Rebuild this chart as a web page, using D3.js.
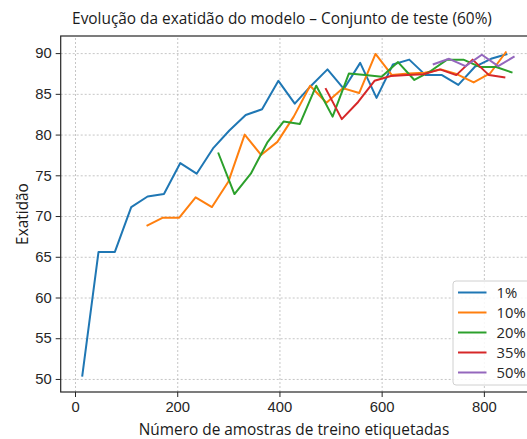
<!DOCTYPE html>
<html>
<head>
<meta charset="utf-8">
<script src="https://cdn.jsdelivr.net/npm/d3@7"></script>
<style>
  body { margin: 0; background: #fff; overflow: hidden; }
  svg { display: block; font-family: "Open Sans", "Noto Sans", sans-serif; }
  .grid line { stroke: #b8b8b8; stroke-dasharray: 2,2; stroke-width: 0.8; }
  .grid path { display: none; }
  .axis text { fill: #262626; font-size: 14.8px; }
  .axis line { stroke: #262626; }
  .axis path { display: none; }
</style>
</head>
<body>
<div id="chart"><svg></svg></div>
<script>
// amostras etiquetadas (eixo x) e exatidão (%) por percentagem inicial
var x1 = [14, 46, 78, 110, 142, 174, 206, 238, 270, 302, 334, 366, 398, 430, 462, 494, 526, 558, 590, 622, 654, 686, 718, 750, 782, 814, 846];
var acc1 = [50.3, 65.6, 65.6, 71.1, 72.4, 72.7, 76.5, 75.2, 78.3, 80.5, 82.4, 83.1, 86.6, 83.8, 86.0, 88.0, 85.6, 88.8, 84.5, 88.6, 89.2, 87.3, 87.3, 86.1, 88.3, 89.3, 89.9];

var x10 = [140, 172, 204, 236, 268, 300, 332, 364, 396, 428, 460, 492, 524, 556, 588, 620, 652, 684, 716, 748, 780, 812, 844];
var acc10 = [68.8, 69.8, 69.8, 72.3, 71.1, 74.2, 80.0, 77.5, 79.1, 82.2, 86.0, 83.9, 85.7, 85.1, 89.9, 87.3, 87.5, 87.6, 88.0, 87.4, 86.4, 87.5, 90.2];

var x20 = [280, 312, 344, 376, 408, 440, 472, 504, 536, 568, 600, 632, 664, 696, 728, 760, 792, 824, 856];
var acc20 = [77.8, 72.7, 75.2, 79.0, 81.6, 81.3, 86.0, 82.2, 87.5, 87.3, 87.1, 88.9, 86.7, 87.8, 89.2, 89.2, 88.3, 88.3, 87.6];

var x35 = [490, 522, 554, 586, 618, 650, 682, 714, 746, 778, 810, 842];
var acc35 = [85.7, 81.9, 84.0, 86.6, 87.2, 87.3, 87.4, 88.0, 87.3, 89.2, 87.3, 87.0];

var x50 = [700, 732, 764, 796, 828, 860];
var acc50 = [88.6, 89.3, 88.4, 89.8, 88.4, 89.6];

var labels = ["1%", "10%", "20%", "35%", "50%"];
var colors = ["#1f77b4", "#ff7f0e", "#2ca02c", "#d62728", "#9467bd"];
var xTicks = [0, 200, 400, 600, 800];
var yTicks = [50, 55, 60, 65, 70, 75, 80, 85, 90];

(function() {
    var width = 527;
    var height = 439;
    var pLeft = 60.7, pRight = 536, pTop = 36, pBottom = 392;

    var svg = d3.select("#chart svg").attr("width", width).attr("height", height);

    var x = d3.scaleLinear().domain([-28, 902]).range([pLeft, pRight]);
    var y = d3.scaleLinear().domain([48.4, 92.1]).range([pBottom, pTop]);

    // grelha
    svg.append("g")
        .attr("class", "grid")
        .attr("transform", "translate(0," + pBottom + ")")
        .call(d3.axisBottom(x).tickValues(xTicks).tickSize(-(pBottom - pTop)).tickFormat(""));
    svg.append("g")
        .attr("class", "grid")
        .attr("transform", "translate(" + pLeft + ",0)")
        .call(d3.axisLeft(y).tickValues(yTicks).tickSize(-(pRight - pLeft)).tickFormat(""));

    // eixos
    svg.append("g")
        .attr("class", "axis")
        .attr("transform", "translate(0," + pBottom + ")")
        .call(d3.axisBottom(x).tickValues(xTicks).tickSize(5).tickPadding(4).tickFormat(d3.format("d")));
    svg.append("g")
        .attr("class", "axis")
        .attr("transform", "translate(" + pLeft + ",0)")
        .call(d3.axisLeft(y).tickValues(yTicks).tickSize(5).tickPadding(4).tickFormat(d3.format("d")));

    var series = [
        { xs: x1, ys: acc1 },
        { xs: x10, ys: acc10 },
        { xs: x20, ys: acc20 },
        { xs: x35, ys: acc35 },
        { xs: x50, ys: acc50 }
    ];

    var line = d3.line()
        .x(function(d) { return x(d[0]); })
        .y(function(d) { return y(d[1]); });

    svg.append("g")
        .selectAll("path")
        .data(series)
        .enter()
        .append("path")
        .attr("d", function(s) { return line(d3.zip(s.xs, s.ys)); })
        .attr("fill", "none")
        .attr("stroke", function(d, i) { return colors[i]; })
        .attr("stroke-width", 2)
        .attr("stroke-linejoin", "round");

    // moldura
    svg.append("rect")
        .attr("x", pLeft)
        .attr("y", pTop)
        .attr("width", pRight - pLeft)
        .attr("height", pBottom - pTop)
        .attr("fill", "none")
        .attr("stroke", "#262626")
        .attr("stroke-width", 1.2);

    // legenda
    var legend = svg.append("g").attr("transform", "translate(453,281)");
    legend.append("rect")
        .attr("width", 80)
        .attr("height", 104)
        .attr("rx", 3)
        .attr("fill", "#fff")
        .attr("fill-opacity", 0.85)
        .attr("stroke", "#d0d0d0");

    var item = legend.selectAll(".item")
        .data(labels)
        .enter()
        .append("g")
        .attr("transform", function(d, i) { return "translate(0," + (11.5 + i * 20) + ")"; });
    item.append("line")
        .attr("x1", 5).attr("x2", 33.5)
        .attr("stroke", function(d, i) { return colors[i]; })
        .attr("stroke-width", 2);
    item.append("text")
        .attr("x", 43.5)
        .attr("dy", "0.35em")
        .attr("font-size", "14.8px")
        .attr("fill", "#262626")
        .text(function(d) { return d; });

    // títulos
    svg.append("text")
        .attr("x", 282)
        .attr("y", 24)
        .attr("text-anchor", "middle")
        .attr("font-size", "15.4px")
        .attr("fill", "#1a1a1a")
        .text("Evolução da exatidão do modelo – Conjunto de teste (60%)");

    svg.append("text")
        .attr("x", 294)
        .attr("y", 435)
        .attr("text-anchor", "middle")
        .attr("font-size", "15.4px")
        .attr("fill", "#1a1a1a")
        .text("Número de amostras de treino etiquetadas");

    svg.append("text")
        .attr("transform", "translate(28," + ((pTop + pBottom) / 2) + ") rotate(-90)")
        .attr("text-anchor", "middle")
        .attr("font-size", "15.4px")
        .attr("fill", "#1a1a1a")
        .text("Exatidão");
})();
</script>
</body>
</html>
